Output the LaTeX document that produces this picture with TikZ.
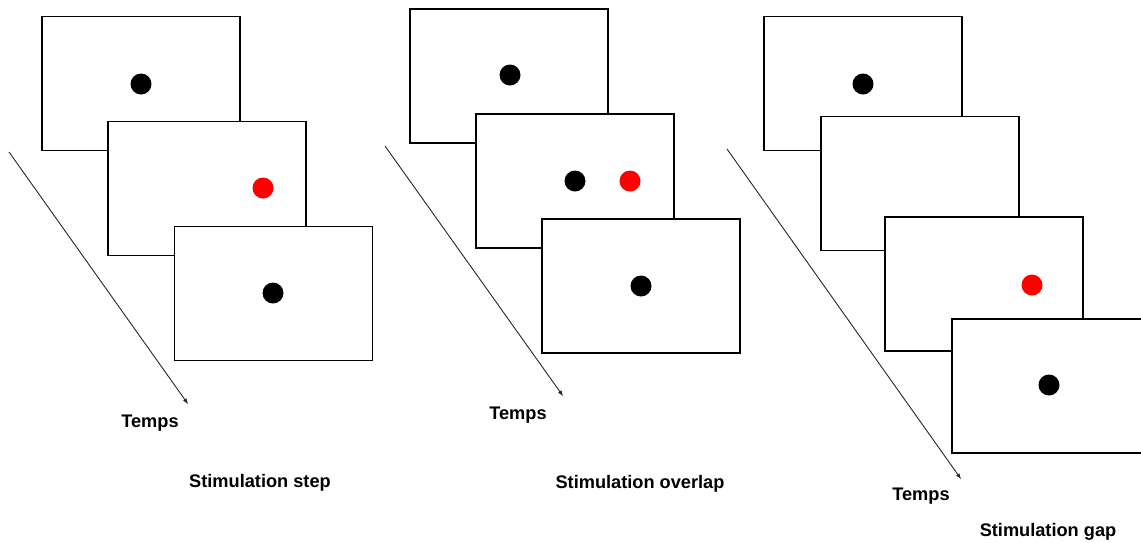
\documentclass[tikz,border=0pt]{standalone}
\usepackage{fontspec}
\setmainfont{Liberation Sans}
\usepackage{tikz}
\usetikzlibrary{arrows}

\begin{document}
\begin{tikzpicture}[x=1pt,y=-1pt,
  screen/.style={draw, fill=white, line width=1.1pt, inner sep=0pt,
    minimum width=198pt, minimum height=134pt},
  dot/.style={circle, fill=black, inner sep=0pt, minimum size=21pt},
  reddot/.style={dot, fill=red},
  lbl/.style={font=\fontsize{18.2}{20}\selectfont\bfseries}]
  \useasboundingbox (0,0) rectangle (1141,542);
  \begin{scope}
  \clip (0,0) rectangle (1141,542);
  \node [screen] (s1a) at (141,83.5) {};
  \node [screen] (s1b) at (207,188.5) {};
  \node [screen] (s1c) at (273.5,293.5) {};
  \node [screen] (s2a) at (509,76) {};
  \node [screen] (s2b) at (575,181) {};
  \node [screen] (s2c) at (641,286) {};
  \node [screen] (s3a) at (863,83.5) {};
  \node [screen] (s3b) at (920,183.5) {};
  \node [screen] (s3c) at (984,284) {};
  \node [screen] (s3d) at (1051,386) {};
  \end{scope}
  \node [dot] (d1a) at (141,84) {};
  \node [reddot] (d1b) at (263,188) {};
  \node [dot] (d1c) at (273,293) {};
  \node [dot] (d2a) at (510,75) {};
  \node [dot] (d2b) at (575,181) {};
  \node [reddot] (d2r) at (630,181) {};
  \node [dot] (d2c) at (641,286) {};
  \node [dot] (d3a) at (863,84) {};
  \node [reddot] (d3c) at (1032,285) {};
  \node [dot] (d3d) at (1049,385) {};
  \coordinate (t1s) at (9,152);
  \coordinate (t1e) at (188,404);
  \coordinate (t2s) at (385,146);
  \coordinate (t2e) at (563,396);
  \coordinate (t3s) at (727,149);
  \coordinate (t3e) at (961,479);
  \draw [-latex, line width=0.9pt, black!85] (t1s) -- (t1e);
  \draw [-latex, line width=0.9pt, black!85] (t2s) -- (t2e);
  \draw [-latex, line width=0.9pt, black!85] (t3s) -- (t3e);
  \node [lbl] (temps1) at (150,423) {Temps};
  \node [lbl] (temps2) at (518,415) {Temps};
  \node [lbl] (temps3) at (921,496) {Temps};
  \node [lbl] (stim1) at (260,483) {Stimulation step};
  \node [lbl] (stim2) at (640,484) {Stimulation overlap};
  \node [lbl] (stim3) at (1048,532) {Stimulation gap};
\end{tikzpicture}
\end{document}
